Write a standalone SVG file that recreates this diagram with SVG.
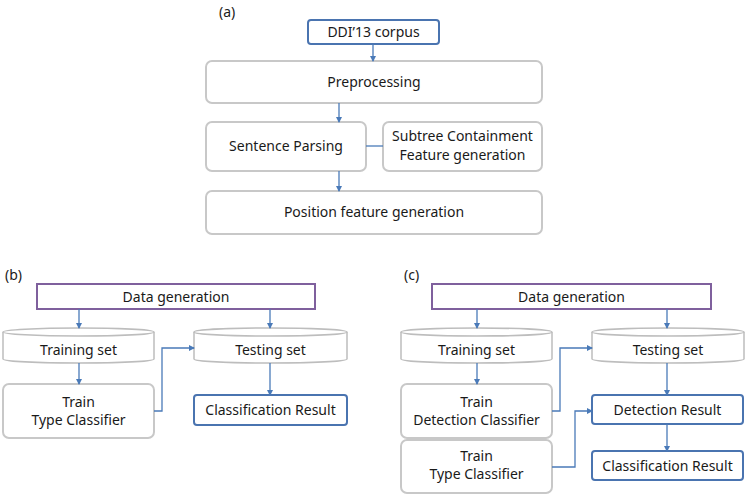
<svg xmlns="http://www.w3.org/2000/svg" width="747" height="496" viewBox="0 0 747 496">
<style>
text{font-family:"Noto Sans","Open Sans",sans-serif;font-size:14px;fill:#1a1a1a;text-anchor:middle}
.lbl{text-anchor:start}
.gray{fill:#fff;stroke:#c8c8c8;stroke-width:2}
.blue{fill:#fff;stroke:#4a74b0;stroke-width:2}
.purple{fill:#fff;stroke:#7f609d;stroke-width:2}
.cyl{fill:#fff;stroke:#bdbdbd;stroke-width:1.5}
.conn{fill:none;stroke:#4a7ab8;stroke-width:1.3}
</style>
<defs>
<marker id="ah" markerWidth="6" markerHeight="6" refX="5" refY="3" orient="auto" markerUnits="userSpaceOnUse">
<path d="M0,0 L6,3 L0,6 Z" fill="#4a7ab8"/>
</marker>
</defs>

<text class="lbl" x="219" y="17">(a)</text>
<text class="lbl" x="5" y="280">(b)</text>
<text class="lbl" x="404" y="280">(c)</text>

<g id="corpus"><rect class="blue" x="308" y="20" width="131" height="24" rx="3"/><text x="373.5" y="37">DDI’13 corpus</text></g>
<g id="preprocessing"><rect class="gray" x="206" y="61" width="336" height="42" rx="6"/><text x="374" y="87">Preprocessing</text></g>
<g id="parsing"><rect class="gray" x="206" y="122" width="160" height="49" rx="6"/><text x="286" y="151">Sentence Parsing</text></g>
<g id="subtree"><rect class="gray" x="383" y="122" width="159" height="49" rx="6"/><text x="462.5" y="141">Subtree Containment</text><text x="462.5" y="160"> Feature generation</text></g>
<g id="position"><rect class="gray" x="206" y="191" width="336" height="43" rx="6"/><text x="374" y="217">Position feature generation</text></g>

<g id="b-datagen"><rect class="purple" x="37" y="284" width="278" height="25"/><text x="176" y="302">Data generation</text></g>
<g id="b-training"><path class="cyl" d="M3,332 A75.5,4 0 0 1 154,332 L154,359 A75.5,4 0 0 1 3,359 Z"/><path class="cyl" d="M3,332 A75.5,4 0 0 0 154,332"/><text x="78.5" y="355">Training set</text></g>
<g id="b-testing"><path class="cyl" d="M194,332 A76.5,4 0 0 1 347,332 L347,359 A76.5,4 0 0 1 194,359 Z"/><path class="cyl" d="M194,332 A76.5,4 0 0 0 347,332"/><text x="270.5" y="355">Testing set</text></g>
<g id="b-train-type"><rect class="gray" x="3" y="384" width="151" height="54" rx="6"/><text x="78.5" y="407">Train</text><text x="78.5" y="425">Type Classifier</text></g>
<g id="b-classres"><rect class="blue" x="194" y="395" width="153" height="30" rx="3"/><text x="270.5" y="415">Classification Result</text></g>

<g id="c-datagen"><rect class="purple" x="432" y="284" width="279" height="25"/><text x="571.5" y="302">Data generation</text></g>
<g id="c-training"><path class="cyl" d="M401,332 A75.5,4 0 0 1 552,332 L552,359 A75.5,4 0 0 1 401,359 Z"/><path class="cyl" d="M401,332 A75.5,4 0 0 0 552,332"/><text x="476.5" y="355">Training set</text></g>
<g id="c-testing"><path class="cyl" d="M592,332 A76,4 0 0 1 744,332 L744,359 A76,4 0 0 1 592,359 Z"/><path class="cyl" d="M592,332 A76,4 0 0 0 744,332"/><text x="668" y="355">Testing set</text></g>
<g id="c-train-det"><rect class="gray" x="401" y="384" width="151" height="54" rx="6"/><text x="476.5" y="407">Train</text><text x="476.5" y="425">Detection Classifier</text></g>
<g id="c-train-type"><rect class="gray" x="401" y="440" width="151" height="53" rx="6"/><text x="476.5" y="461">Train</text><text x="476.5" y="479">Type Classifier</text></g>
<g id="c-detres"><rect class="blue" x="592" y="395" width="151" height="29" rx="3"/><text x="667.5" y="415">Detection Result</text></g>
<g id="c-classres"><rect class="blue" x="592" y="451" width="151" height="29" rx="3"/><text x="667.5" y="471">Classification Result</text></g>

<g id="connectors">
<path class="conn" d="M373,44 V61" marker-end="url(#ah)"/>
<path class="conn" d="M339,103 V122" marker-end="url(#ah)"/>
<path class="conn" d="M366,146 H383"/>
<path class="conn" d="M339,171 V191" marker-end="url(#ah)"/>

<path class="conn" d="M79,309 V328" marker-end="url(#ah)"/>
<path class="conn" d="M270,309 V328" marker-end="url(#ah)"/>
<path class="conn" d="M79,363 V384" marker-end="url(#ah)"/>
<path class="conn" d="M154,411 H162 V348 H194" marker-end="url(#ah)"/>
<path class="conn" d="M270,363 V395" marker-end="url(#ah)"/>

<path class="conn" d="M477,309 V328" marker-end="url(#ah)"/>
<path class="conn" d="M667,309 V328" marker-end="url(#ah)"/>
<path class="conn" d="M477,363 V384" marker-end="url(#ah)"/>
<path class="conn" d="M552,411 H560 V348 H592" marker-end="url(#ah)"/>
<path class="conn" d="M667,363 V395" marker-end="url(#ah)"/>
<path class="conn" d="M552,467 H575 V411 H592" marker-end="url(#ah)"/>
<path class="conn" d="M667,424 V451" marker-end="url(#ah)"/>
</g>
</svg>
